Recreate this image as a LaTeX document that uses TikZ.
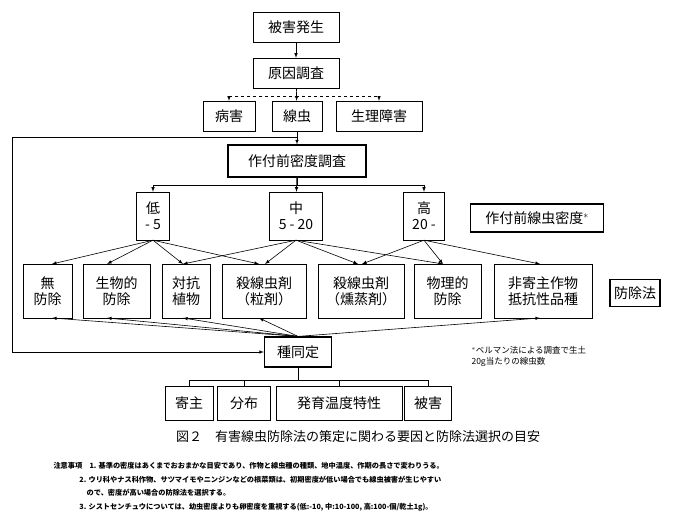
\documentclass[tikz,border=0pt]{standalone}
\usepackage{fontspec}
\setmainfont{Noto Sans CJK JP}
\usetikzlibrary{arrows,positioning}

\begin{document}
\begin{tikzpicture}[x=1pt,y=-1pt,
  box/.style={draw, inner sep=1pt, align=center, font=\fontsize{14}{16}\selectfont},
  bold/.style={box, very thick},
  arr/.style={-latex, semithick},
  line/.style={semithick}]
\useasboundingbox (0,0) rectangle (691,521);

% Top flow
\node[box, minimum width=86, minimum height=30] (dmg) at (296,27) {被害発生};
\node[box, minimum width=86, minimum height=30] (cause) at (296,73) {原因調査};
\node[box, minimum width=52, minimum height=30] (disease) at (229,116) {病害};
\node[box, minimum width=50, minimum height=30] (nema) at (297,116) {線虫};
\node[box, minimum width=86, minimum height=30] (physio) at (379,116) {生理障害};
\node[bold, minimum width=138, minimum height=32] (survey) at (297,161) {作付前密度調査};

\draw[arr] (dmg) -- (cause);
\draw[arr] (cause) -- (nema);
\draw[arr, dashed] (cause.south) -- ++(0,8) -| (disease.north);
\draw[arr, dashed] (cause.south) ++(0,8) -| (physio.north);
\coordinate (jn) at (297,137);
\draw[arr] (nema) -- (survey);

% Density levels
\node[box, minimum width=33, minimum height=48] (low) at (153,216) {低\\- 5};
\node[box, minimum width=53, minimum height=48] (mid) at (296,216) {中\\5 - 20};
\node[box, minimum width=41, minimum height=48] (high) at (424,216) {高\\20 -};
\node[bold, minimum width=133, minimum height=28] (dens) at (537,218) {作付前線虫密度$^{*}$};
\draw[arr] (survey.south) -- ++(0,8) -| (low.north);
\draw[arr] (survey.south) ++(0,8) -| (high.north);
\draw[arr] (survey) -- (mid);

% Control methods
\foreach \nm/\xa/\xb/\txt in {none/23/72/{無\\防除}, bio/83/150/{生物的\\防除}, anta/162/210/{対抗\\植物},
  gran/222/306/{殺線虫剤\\（粒剤）}, fumi/318/404/{殺線虫剤\\（燻蒸剤）}, phys/414/481/{物理的\\防除},
  nonh/494/592/{非寄主作物\\抵抗性品種}}
  \node[box, minimum width=\xb-\xa, minimum height=54] (\nm) at ({(\xa+\xb)/2},291) {\txt};
\node[bold, minimum width=50, minimum height=27] (meth) at (635,293) {防除法};

\foreach \src/\dst/\xe in {low/none/52, low/bio/107, low/anta/183, low/gran/259,
  mid/anta/183, mid/gran/265, mid/fumi/358, mid/phys/443,
  high/fumi/362, high/phys/443, high/nonh/540}
  \draw[arr] (\src.south) -- (\xe,264);

% Species identification
\node[bold, minimum width=67, minimum height=30] (spec) at (298,352) {種同定};
\foreach \xe in {52,107,183,259,540}
  \draw[arr] (spec.north) -- (\xe,318);
\draw[arr] (jn) -- (12,137) -- (12,352) -- (spec.west);

\node[font=\fontsize{8.5}{11}\selectfont, align=left, anchor=north west] (note) at (468,343)
  {$^{*}$ベルマン法による調査で生土\\20g当たりの線虫数};

% Bottom row
\node[box, minimum width=48, minimum height=34] (host) at (189,403) {寄主};
\node[box, minimum width=53, minimum height=34] (dist) at (244,403) {分布};
\node[box, minimum width=126, minimum height=34] (temp) at (339,403) {発育温度特性};
\node[box, minimum width=47, minimum height=34] (harm) at (428,403) {被害};
\draw[line] (spec.south) -- ++(0,13);
\draw[line] (host.north) -- ++(0,-6) -| (harm.north);
\draw[line] (dist.north) -- ++(0,-6);
\draw[line] (temp.north) -- ++(0,-6);

% Caption and notes
\node[font=\fontsize{13}{15}\selectfont] (cap) at (358,437) {図２\quad 有害線虫防除法の策定に関わる要因と防除法選択の目安};
\node[font=\bfseries\fontsize{7.2}{13.5}\selectfont, align=left, anchor=north west] (notes) at (50,459)
  {注意事項\quad 1. 基準の密度はあくまでおおまかな目安であり、作物と線虫種の種類、地中温度、作期の長さで変わりうる。\\
  \hspace*{3.6em}2. ウリ科やナス科作物、サツマイモやニンジンなどの根菜類は、初期密度が低い場合でも線虫被害が生じやすい\\
  \hspace*{4.6em}ので、密度が高い場合の防除法を選択する。\\
  \hspace*{3.6em}3. シストセンチュウについては、幼虫密度よりも卵密度を重視する(低:-10, 中:10-100, 高:100-個/乾土1g)。};
\end{tikzpicture}
\end{document}
